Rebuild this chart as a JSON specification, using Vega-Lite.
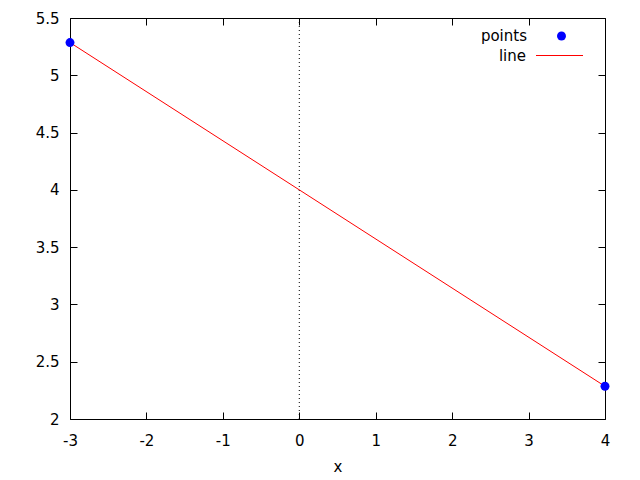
{
  "$schema": "https://vega.github.io/schema/vega-lite/v6.json",
  "width": 535,
  "height": 401,
  "autosize": {"type": "none"},
  "padding": {"left": 70, "top": 18, "right": 35, "bottom": 61},
  "config": {
    "font": "DejaVu Sans",
    "view": {"stroke": "black", "strokeWidth": 1},
    "axis": {
      "grid": false,
      "domain": false,
      "tickColor": "black",
      "tickSize": -7,
      "tickWidth": 1,
      "labelColor": "black",
      "labelFont": "DejaVu Sans",
      "labelFontSize": 15,
      "labelFlush": false,
      "labelOverlap": false,
      "labelBound": false,
      "labelExpr": "datum.value + ''",
      "titleFont": "DejaVu Sans",
      "titleFontSize": 15,
      "titleFontWeight": "normal",
      "titleColor": "black"
    },
    "legend": {
      "title": null,
      "orient": "none",
      "padding": 0,
      "labelFont": "DejaVu Sans",
      "labelFontSize": 15,
      "labelColor": "black",
      "labelAlign": "right"
    }
  },
  "datasets": {
    "pts": [
      {"x": -3, "y": 5.2857},
      {"x": 4, "y": 2.2857}
    ],
    "zero": [{"x": 0}]
  },
  "layer": [
    {
      "data": {"name": "zero"},
      "mark": {"type": "rule", "stroke": "black", "strokeWidth": 1, "strokeDash": [1, 3]},
      "encoding": {
        "x": {
          "field": "x", "type": "quantitative",
          "scale": {"domain": [-3, 4], "nice": false, "zero": false},
          "axis": {"orient": "top", "labels": false, "title": null, "values": [-3,-2,-1,0,1,2,3,4]}
        }
      }
    },
    {
      "data": {"name": "pts"},
      "mark": {"type": "line", "strokeWidth": 1, "clip": true},
      "encoding": {
        "x": {
          "field": "x", "type": "quantitative",
          "scale": {"domain": [-3, 4], "nice": false, "zero": false},
          "axis": {"orient": "bottom", "title": "x", "labelPadding": 21, "titlePadding": 11, "values": [-3,-2,-1,0,1,2,3,4]}
        },
        "y": {
          "field": "y", "type": "quantitative",
          "scale": {"domain": [2, 5.5], "nice": false, "zero": false},
          "axis": {"orient": "right", "labels": false, "title": null, "values": [2,2.5,3,3.5,4,4.5,5,5.5]}
        },
        "color": {
          "datum": "line",
          "type": "nominal",
          "scale": {"domain": ["line"], "range": ["red"]},
          "legend": {
            "legendX": 465.5,
            "legendY": 13.5,
            "symbolType": "stroke",
            "symbolSize": 2209,
            "symbolStrokeWidth": 1,
            "symbolStrokeColor": "red",
            "symbolOpacity": 1,
            "labelOffset": -57.5,
            "encode": {
              "symbols": {
                "update": {
                  "stroke": {"value": "red"},
                  "strokeWidth": {"value": 1},
                  "opacity": {"value": 1}
                }
              }
            }
          }
        }
      }
    },
    {
      "data": {"name": "pts"},
      "mark": {"type": "point", "filled": true, "size": 80, "opacity": 1, "strokeWidth": 0},
      "encoding": {
        "x": {"field": "x", "type": "quantitative", "scale": {"domain": [-3, 4], "nice": false, "zero": false}, "axis": null},
        "y": {
          "field": "y", "type": "quantitative",
          "scale": {"domain": [2, 5.5], "nice": false, "zero": false},
          "axis": {"orient": "left", "title": null, "labelPadding": 18, "values": [2,2.5,3,3.5,4,4.5,5,5.5]}
        },
        "fill": {
          "datum": "points",
          "type": "nominal",
          "scale": {"domain": ["points"], "range": ["blue"]},
          "legend": {
            "legendX": 484,
            "legendY": 10.5,
            "symbolType": "circle",
            "symbolSize": 80,
            "symbolStrokeWidth": 0,
            "symbolOpacity": 1,
            "labelOffset": -42
          }
        }
      }
    }
  ],
  "resolve": {"axis": {"x": "independent", "y": "independent"}}
}
